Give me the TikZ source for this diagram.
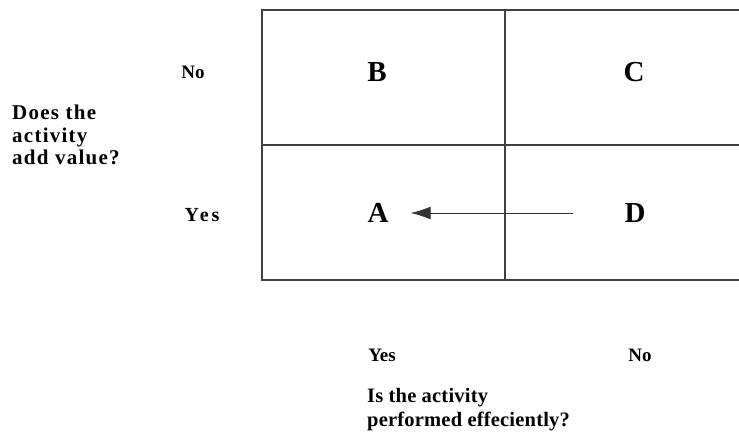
\documentclass[tikz,border=0pt]{standalone}
\usepackage{fontspec}
\setmainfont{Liberation Serif}
\newfontfamily\widefnt[LetterSpace=6]{Liberation Serif}
\newfontfamily\slightfnt[LetterSpace=1]{Liberation Serif}
\newfontfamily\widerfnt[LetterSpace=15]{Liberation Serif}
\usetikzlibrary{arrows.meta}
\begin{document}
\begin{tikzpicture}[x=1pt,y=-1pt,
  grid/.style={draw=black!75,line width=1.2pt},
  cell/.style={font=\fontsize{29}{30}\selectfont\bfseries,inner sep=0pt},
  lab/.style={font=\fontsize{19}{21}\selectfont\bfseries,inner sep=0pt},
  q/.style={font=\widefnt\fontsize{21}{22.5}\selectfont\bfseries,inner sep=0pt,align=left}]
\useasboundingbox (0,0) rectangle (739,444);
\draw[grid] (739,10) -- (262,10) -- (262,280) -- (739,280);
\draw[grid] (262,145) -- (739,145);
\draw[grid] (505,10) -- (505,280);
\node[cell] (B) at (377,72) {B};
\node[cell] (C) at (634,72) {C};
\node[cell] (A) at (378,213) {A};
\node[cell] (D) at (635,213) {D};
\coordinate (Dl) at (573,213);
\draw[line width=0.9pt,draw=black!80,-{Latex[length=20pt,width=13pt]}] (Dl) -- ([xshift=22pt]A.east);
\node[lab] (no1) at (193,72) {No};
\node[lab,font=\widerfnt\fontsize{20}{22}\selectfont\bfseries] (yes1) at (202,215) {Yes};
\node[q,anchor=west] (q1) at (12,135) {Does the\\activity\\add value?};
\node[lab] (yes2) at (382,355) {Yes};
\node[lab] (no2) at (640,355) {No};
\node[q,anchor=west,font=\slightfnt\fontsize{20.5}{24}\selectfont\bfseries] (q2) at (367,410) {Is the activity\\performed effeciently?};
\end{tikzpicture}
\end{document}
